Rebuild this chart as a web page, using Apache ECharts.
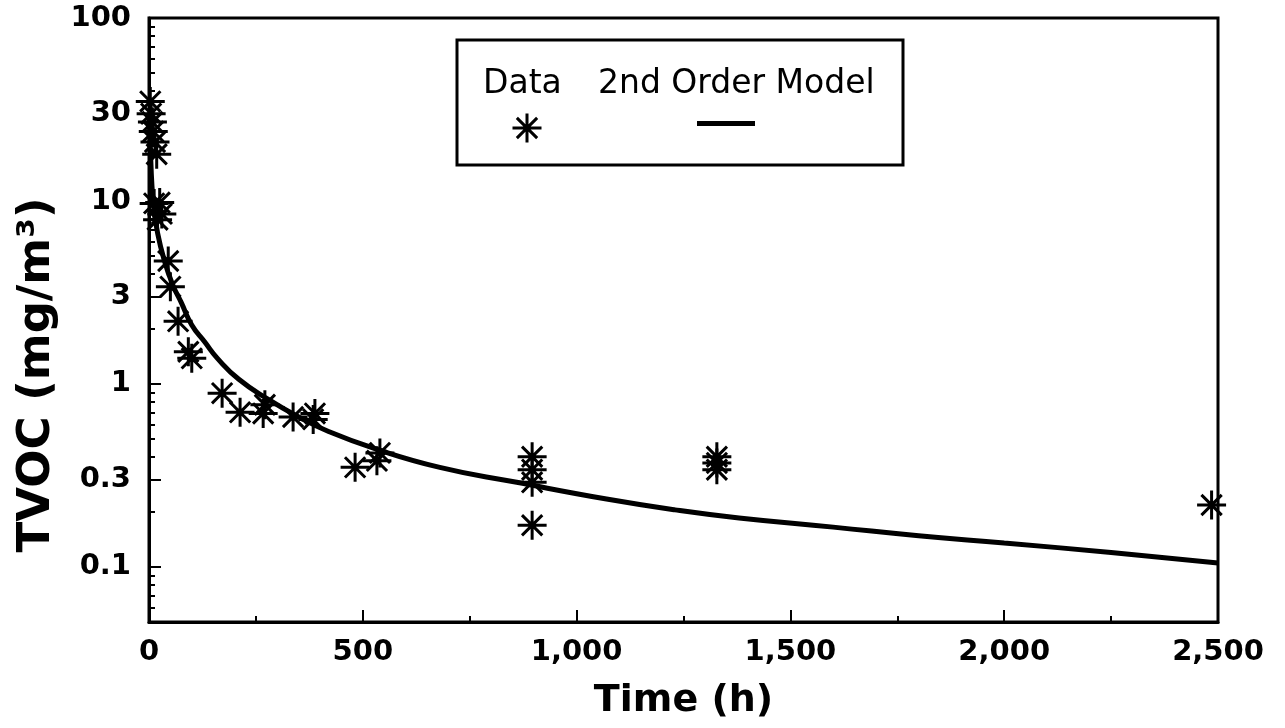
<!DOCTYPE html>
<html>
<head>
<meta charset="utf-8">
<script src="https://cdn.jsdelivr.net/npm/echarts@6.0.0/dist/echarts.min.js"></script>
<style>
  html, body { margin: 0; padding: 0; background: #fff; }
  #chart { width: 1285px; height: 728px; }
</style>
</head>
<body>
<div id="chart"></div>
<script>
// measured points (time in h, TVOC in mg/m3)
const dataTime = [3, 5, 8, 10, 14, 18,
    12, 25, 30, 20,
    45, 50, 68, 92, 100,
    171, 213, 267, 271, 337, 384, 388,
    482, 533, 540,
    896, 896, 896, 896,
    1328, 1328, 1328,
    2485];
const dataTvoc = [35, 30, 27, 24, 21, 18,
    9.7, 9.8, 8.5, 7.9,
    4.7, 3.4, 2.2, 1.5, 1.38,
    0.89, 0.70, 0.69, 0.77, 0.66, 0.64, 0.69,
    0.35, 0.38, 0.42,
    0.40, 0.34, 0.29, 0.169,
    0.40, 0.37, 0.34,
    0.218];

// 2nd order model curve
const modelTime = [0, 3, 7, 12, 20, 35, 55, 75, 100, 130, 160, 210, 280, 350, 420,
    520, 680, 860, 1070, 1230, 1380, 1600, 1800, 2000, 2250, 2500];
const modelTvoc = [30, 20, 12, 9, 6.7, 4.8, 3.5, 2.8, 2.1, 1.7, 1.38, 1.06, 0.82, 0.66, 0.55,
    0.45, 0.35, 0.29, 0.235, 0.205, 0.185, 0.165, 0.148, 0.135, 0.12, 0.105];

// y axis ticks
const yLabelValues = [0.1, 0.3, 1, 3, 10, 30, 100];
const yMinorValues = [0.06, 0.07, 0.08, 0.09, 0.2, 0.4, 0.5, 0.6, 0.7, 0.8, 0.9,
    2, 4, 5, 6, 7, 8, 9, 20, 40, 50, 60, 70, 80, 90];

const starPath = 'path://M0,10L20,10M10,0L10,20M3,3L17,17M17,3L3,17';
const boldFont = 'DejaVu Sans';

var myChart = echarts.init(document.getElementById('chart'));

var option = {
    animation: false,
    backgroundColor: '#fff',
    grid: {
        left: 149, right: 67, top: 18, bottom: 106,
        show: true, borderColor: '#000', borderWidth: 3
    },
    legend: [
        {
            data: ['Data'], left: 511, top: 112, padding: 0,
            itemWidth: 29, itemHeight: 29, selectedMode: false,
            formatter: function () { return ''; },
            textStyle: { fontSize: 4 },
            itemStyle: { color: 'rgba(0,0,0,0)', borderColor: '#000', borderWidth: 3, opacity: 1 }
        },
        {
            data: [{ name: '2nd Order Model', icon: 'rect' }], left: 697, top: 121, padding: 0,
            itemWidth: 58, itemHeight: 5, selectedMode: false,
            formatter: function () { return ''; },
            textStyle: { fontSize: 4 },
            itemStyle: { color: '#000', borderWidth: 0, opacity: 1 }
        }
    ],
    graphic: [
        {
            type: 'rect', shape: { x: 457, y: 40, width: 446, height: 125 },
            style: { fill: 'none', stroke: '#000', lineWidth: 3 }
        },
        {
            type: 'text', x: 483, y: 84,
            style: { text: 'Data', font: '33px "DejaVu Sans"', fill: '#000', verticalAlign: 'middle' }
        },
        {
            type: 'text', x: 598, y: 84,
            style: { text: '2nd Order Model', font: '33px "DejaVu Sans"', fill: '#000', verticalAlign: 'middle' }
        }
    ],
    xAxis: {
        type: 'value', min: 0, max: 2500, interval: 500,
        name: 'Time (h)', nameLocation: 'middle', nameGap: 60,
        nameTextStyle: { fontFamily: boldFont, fontWeight: 'bold', fontSize: 38, color: '#000' },
        axisLine: { show: true, lineStyle: { color: '#000', width: 3 } },
        axisTick: { show: true, inside: true, length: 12, lineStyle: { color: '#000', width: 2 } },
        minorTick: { show: true, splitNumber: 2, length: 6, lineStyle: { color: '#000', width: 2 } },
        axisLabel: {
            margin: 16, fontFamily: boldFont, fontWeight: 'bold', fontSize: 29, color: '#000',
            formatter: function (v) { return v.toLocaleString('en-US'); }
        },
        splitLine: { show: false }
    },
    yAxis: [
        {
            type: 'log', logBase: 10, min: 0.05, max: 100,
            name: 'TVOC (mg/m\u00b3)', nameLocation: 'middle', nameGap: 86, nameRotate: 90,
            nameTextStyle: { fontFamily: boldFont, fontWeight: 'bold', fontSize: 45, color: '#000',
                padding: [0, 110, 0, 0] },
            axisLine: { show: true, lineStyle: { color: '#000', width: 3 } },
            axisTick: { show: true, inside: true, length: 12, customValues: yLabelValues,
                lineStyle: { color: '#000', width: 2 } },
            axisLabel: { margin: 18, fontFamily: boldFont, fontWeight: 'bold', fontSize: 29, color: '#000',
                customValues: yLabelValues },
            splitLine: { show: false }
        },
        {
            // minor ticks only
            type: 'log', logBase: 10, min: 0.05, max: 100, position: 'left',
            axisLine: { show: false },
            axisTick: { show: true, inside: true, length: 6, customValues: yMinorValues,
                lineStyle: { color: '#000', width: 2 } },
            axisLabel: { show: false },
            splitLine: { show: false }
        }
    ],
    series: [
        {
            name: 'Data', type: 'scatter', yAxisIndex: 0,
            symbol: starPath, symbolSize: 29,
            itemStyle: { color: 'rgba(0,0,0,0)', borderColor: '#000', borderWidth: 3, opacity: 1 },
            data: dataTime.map((t, i) => [t, dataTvoc[i]]),
            z: 3
        },
        {
            name: '2nd Order Model', type: 'line', yAxisIndex: 0,
            smooth: true, symbol: 'none',
            lineStyle: { color: '#000', width: 5 },
            itemStyle: { color: '#000' },
            data: modelTime.map((t, i) => [t, modelTvoc[i]]),
            z: 2
        }
    ]
};

myChart.setOption(option);
</script>
</body>
</html>
